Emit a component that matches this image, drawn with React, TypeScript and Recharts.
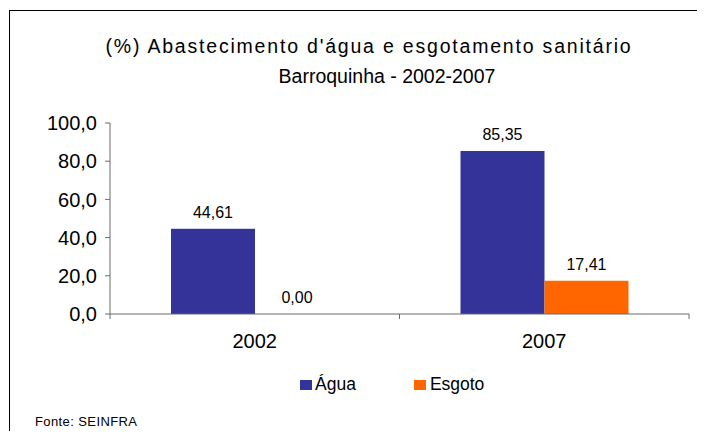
import React from "react";
import { BarChart, Bar, XAxis, YAxis } from "recharts";

const years = ["2002", "2007"];
const agua = [44.61, 85.35];
const esgoto = [0.0, 17.41];
const yTicks = [0, 20, 40, 60, 80, 100];

const data = years.map((year, i) => ({ year, agua: agua[i], esgoto: esgoto[i] }));

const FONT = "'Liberation Sans', Arial, sans-serif";
const AXIS = "#6b6b6b";

const fmtAxis = (v: number) => v.toFixed(1).replace(".", ",");
const fmtLabel = (v: number) => Number(v).toFixed(2).replace(".", ",");

const CategoryTick = (props: any) => {
  const { x, y, payload } = props;
  const half = payload?.offset ?? 0;
  return (
    <g>
      <line x1={x - half} y1={y - 8} x2={x - half} y2={y - 3} stroke={AXIS} />
      {payload.index === years.length - 1 && (
        <line x1={x + half} y1={y - 8} x2={x + half} y2={y - 3} stroke={AXIS} />
      )}
      <text x={x} y={y + 26} textAnchor="middle" fontSize={20} fill="#000" fontFamily={FONT}>
        {payload.value}
      </text>
    </g>
  );
};

// bar shape that also writes the value above, so the 0,00 bar still gets its label
const LabeledBar = (props: any) => {
  const { x, y, width, height, fill, value } = props;
  const v = Array.isArray(value) ? value[1] - value[0] : value;
  return (
    <g>
      {height > 0 && <rect x={x} y={y} width={width} height={height} fill={fill} />}
      <text
        x={x + width / 2}
        y={y - 11}
        textAnchor="middle"
        fontSize={16}
        fill="#000"
        fontFamily={FONT}
      >
        {fmtLabel(v)}
      </text>
    </g>
  );
};

const LegendBox = () => (
  <div style={{ display: "flex", alignItems: "center", fontFamily: FONT, fontSize: 17.5, color: "#000" }}>
    <span style={{ width: 12, height: 10, background: "#333399", display: "inline-block", marginRight: 3 }} />
    <span style={{ marginRight: 58 }}>Água</span>
    <span style={{ width: 12, height: 10, background: "#FF6600", display: "inline-block", marginRight: 4 }} />
    <span>Esgoto</span>
  </div>
);

export default function App() {
  return (
    <div style={{ position: "relative", width: 705, height: 439, margin: -8, background: "#fff", overflow: "hidden" }}>
      <div
        style={{
          position: "absolute",
          left: 9,
          top: 10,
          width: 691,
          height: 440,
          borderTop: "1px solid #000",
          borderLeft: "1px solid #000",
        }}
      />
      <div
        style={{
          position: "absolute",
          left: 0,
          top: 35,
          width: 738,
          textAlign: "center",
          fontFamily: FONT,
          fontSize: 19.5,
          letterSpacing: 1.8,
          color: "#000",
        }}
      >
        (%) Abastecimento d'água e esgotamento sanitário
      </div>
      <div
        style={{
          position: "absolute",
          left: 0,
          top: 65,
          width: 774,
          textAlign: "center",
          fontFamily: FONT,
          fontSize: 19.5,
          color: "#000",
        }}
      >
        Barroquinha - 2002-2007
      </div>
      <BarChart
        width={705}
        height={439}
        data={data}
        margin={{ top: 123, right: 16, bottom: 95, left: 10 }}
        barCategoryGap={61}
        barGap={0}
      >
        <YAxis
          domain={[0, 100]}
          ticks={yTicks}
          tickFormatter={fmtAxis}
          width={100}
          tickSize={5}
          tickMargin={8}
          stroke={AXIS}
          tick={{ fontSize: 20, fill: "#000", fontFamily: FONT }}
        />
        <XAxis
          dataKey="year"
          height={30}
          stroke={AXIS}
          tickLine={false}
          tick={<CategoryTick />}
          interval={0}
        />
        <Bar dataKey="agua" fill="#333399" isAnimationActive={false} shape={<LabeledBar />} />
        <Bar dataKey="esgoto" fill="#FF6600" isAnimationActive={false} shape={<LabeledBar />} />
      </BarChart>
      <div style={{ position: "absolute", left: 300, top: 374 }}>
        <LegendBox />
      </div>
      <div
        style={{
          position: "absolute",
          left: 35,
          top: 414,
          fontFamily: FONT,
          fontSize: 13,
          letterSpacing: 0.4,
          color: "#000",
        }}
      >
        Fonte: SEINFRA
      </div>
    </div>
  );
}
